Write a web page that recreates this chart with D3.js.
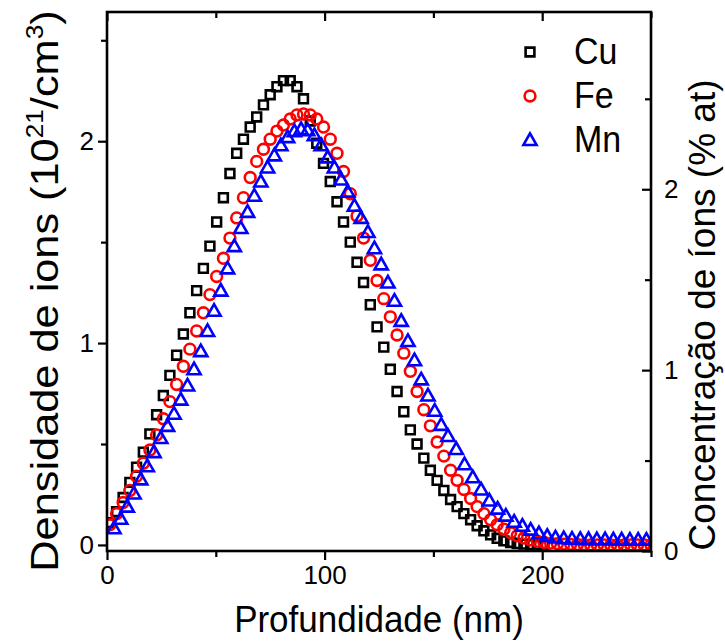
<!DOCTYPE html>
<html>
<head>
<meta charset="utf-8">
<script src="https://cdn.jsdelivr.net/npm/d3@7"></script>
<style>
  body { margin: 0; background: #fff; }
  svg text { font-family: "Liberation Sans", Arial, sans-serif; fill: #000; }
</style>
</head>
<body>
<div id="chart"></div>
<script>
// depth grid (nm) shared by Cu and Fe
var depth = [1.3, 4.4, 7.4, 10.5, 13.6, 16.7, 19.7, 22.8, 25.9, 28.9, 32.0, 35.1, 38.1, 41.2, 44.3, 47.3,
  50.4, 53.5, 56.5, 59.6, 62.7, 65.8, 68.8, 71.9, 75.0, 78.1, 81.1, 84.2, 87.3, 90.3, 93.4, 96.4, 99.5,
  102.6, 105.7, 108.7, 111.8, 114.9, 117.9, 121.0, 124.1, 127.2, 130.2, 133.3, 136.4, 139.4, 142.5, 145.6,
  148.6, 151.7, 154.8, 157.9, 160.9, 164.0, 167.1, 170.1, 173.2, 176.3, 179.3, 182.4, 185.5, 188.5, 191.6,
  194.7, 197.8, 200.8, 203.9, 207.0, 210.0, 213.1, 216.2, 219.3, 222.3, 225.4, 228.5, 231.5, 234.6, 237.7,
  240.7, 243.8, 246.9, 250.0];

// ion density, 10^21 / cm^3
var cuDensity = [0.11, 0.165, 0.235, 0.31, 0.385, 0.46, 0.55, 0.645, 0.74, 0.84, 0.94, 1.045, 1.15, 1.26,
  1.37, 1.48, 1.60, 1.72, 1.84, 1.94, 2.01, 2.07, 2.12, 2.18, 2.23, 2.27, 2.30, 2.30, 2.27, 2.21, 2.10, 1.99,
  1.89, 1.80, 1.70, 1.60, 1.50, 1.40, 1.30, 1.19, 1.08, 0.98, 0.87, 0.76, 0.66, 0.57, 0.50, 0.43, 0.37, 0.32,
  0.27, 0.225, 0.19, 0.155, 0.125, 0.095, 0.07, 0.05, 0.033, 0.02, 0.012, 0.007, 0.004, 0.002, 0.001, 0];

var feDensity = [0.10, 0.155, 0.21, 0.27, 0.34, 0.405, 0.47, 0.545, 0.625, 0.71, 0.795, 0.885, 0.97, 1.06,
  1.15, 1.24, 1.33, 1.42, 1.52, 1.62, 1.72, 1.82, 1.90, 1.96, 2.01, 2.05, 2.08, 2.11, 2.13, 2.135, 2.13, 2.11,
  2.07, 2.01, 1.94, 1.85, 1.74, 1.63, 1.52, 1.41, 1.31, 1.22, 1.13, 1.04, 0.95, 0.86, 0.76, 0.67, 0.59, 0.51,
  0.44, 0.37, 0.32, 0.275, 0.23, 0.19, 0.155, 0.125, 0.10, 0.078, 0.06, 0.045, 0.034, 0.025, 0.018, 0.013,
  0.009, 0.006, 0.004, 0.003, 0.002, 0.001, 0, 0, 0, 0, 0, 0, 0, 0, 0, 0];

// Mn has its own depth grid
var mnDepth = [3.2, 6.3, 9.3, 12.4, 15.5, 18.5, 21.6, 24.7, 27.8, 30.8, 33.9, 37.0, 40.0, 43.1, 46.2, 49.2,
  52.3, 55.4, 58.5, 61.5, 64.6, 67.7, 70.7, 73.8, 76.9, 79.9, 83.0, 86.1, 89.2, 92.2, 95.3, 98.4, 101.4,
  104.5, 107.6, 110.6, 113.7, 116.8, 119.9, 122.9, 126.0, 129.1, 132.1, 135.2, 138.3, 141.3, 144.4, 147.5,
  150.6, 153.6, 156.7, 160.5, 164.3, 168.1, 171.9, 175.7, 179.5, 183.3, 187.1, 190.9, 194.7, 198.5, 202.3,
  206.1, 209.9, 213.7, 217.5, 221.3, 225.1, 228.9, 232.7, 236.5, 240.3, 244.1, 247.9, 251.7];

var mnDensity = [0.083, 0.13, 0.19, 0.255, 0.325, 0.39, 0.46, 0.53, 0.59, 0.65, 0.72, 0.79, 0.87, 0.96,
  1.06, 1.16, 1.26, 1.37, 1.48, 1.57, 1.65, 1.73, 1.80, 1.87, 1.93, 1.98, 2.02, 2.05, 2.06, 2.055, 2.03, 1.98,
  1.92, 1.87, 1.81, 1.75, 1.68, 1.62, 1.55, 1.47, 1.39, 1.30, 1.21, 1.11, 1.01, 0.915, 0.82, 0.74, 0.665,
  0.595, 0.54, 0.475, 0.40, 0.335, 0.275, 0.22, 0.18, 0.145, 0.115, 0.095, 0.075, 0.058, 0.045, 0.037,
  0.033, 0.031, 0.03, 0.029, 0.028, 0.028, 0.027, 0.027, 0.026, 0.026, 0.026, 0.026];

var xTicks = [0, 100, 200];
var xMinorTicks = [50, 150, 250];
var yLeftTicks = [0, 1, 2];
var yRightTicks = [0, 1, 2];
var yMinorTicks = [0.5, 1.5, 2.5];
var seriesNames = ["Cu", "Fe", "Mn"];

var width = 725, height = 642;
var plot = { left: 107, right: 651, top: 12, bottom: 551 };

var svg = d3.select("#chart").append("svg")
    .attr("width", width)
    .attr("height", height);

var xScale = d3.scaleLinear().domain([0, 250]).range([plot.left, plot.right]);
var yScale = d3.scaleLinear().domain([-0.03, 2.64]).range([plot.bottom, plot.top]);
var yRightScale = d3.scaleLinear().domain([0, 2.98]).range([plot.bottom, plot.top]);

function zip(xs, ys) {
    return ys.map(function (v, i) { return { x: xs[i], y: v }; });
}

var series = [
    { name: seriesNames[0], data: zip(depth, cuDensity), color: "#000000", shape: "square" },
    { name: seriesNames[1], data: zip(depth, feDensity), color: "#ff0000", shape: "circle" },
    { name: seriesNames[2], data: zip(mnDepth, mnDensity), color: "#0000ff", shape: "triangle" }
];

// marker paths centred on 0,0
function markerPath(shape) {
    if (shape === "square") return "M-4.4,-4.4H4.4V4.4H-4.4Z";
    if (shape === "circle") return "M5.4,0A5.4,5.4 0 1,1 -5.4,0A5.4,5.4 0 1,1 5.4,0Z";
    return "M0,-6.6L6.6,5H-6.6Z";
}

svg.append("clipPath").attr("id", "plot-clip")
    .append("rect")
    .attr("x", plot.left).attr("y", plot.top)
    .attr("width", plot.right - plot.left).attr("height", plot.bottom - plot.top);

var marks = svg.append("g").attr("clip-path", "url(#plot-clip)");

series.forEach(function (s) {
    marks.append("g")
        .selectAll("path")
        .data(s.data)
        .enter()
        .append("path")
        .attr("d", markerPath(s.shape))
        .attr("transform", function (d) {
            return "translate(" + xScale(d.x) + "," + yScale(d.y) + ")";
        })
        .attr("fill", "none")
        .attr("stroke", s.color)
        .attr("stroke-width", 2.6);
});

// axes
function styleAxis(g, fontSize) {
    g.select(".domain").remove();
    g.selectAll(".tick line").attr("stroke", "#000").attr("stroke-width", 2.2);
    g.selectAll(".tick text").attr("font-size", fontSize)
        .attr("font-family", "Liberation Sans, Arial, sans-serif");
}

var bottomAxis = svg.append("g").attr("transform", "translate(0," + plot.bottom + ")")
    .call(d3.axisBottom(xScale).tickValues(xTicks).tickSize(9).tickPadding(6).tickFormat(d3.format("d")));
styleAxis(bottomAxis, 26);
var bottomMinor = svg.append("g").attr("transform", "translate(0," + plot.bottom + ")")
    .call(d3.axisBottom(xScale).tickValues(xMinorTicks).tickSize(6).tickFormat(""));
styleAxis(bottomMinor, 26);

var topAxis = svg.append("g").attr("transform", "translate(0," + plot.top + ")")
    .call(d3.axisBottom(xScale).tickValues(xTicks).tickSize(9).tickFormat(""));
styleAxis(topAxis, 26);
var topMinor = svg.append("g").attr("transform", "translate(0," + plot.top + ")")
    .call(d3.axisBottom(xScale).tickValues(xMinorTicks).tickSize(6).tickFormat(""));
styleAxis(topMinor, 26);

var leftAxis = svg.append("g").attr("transform", "translate(" + plot.left + ",0)")
    .call(d3.axisLeft(yScale).tickValues(yLeftTicks).tickSize(9).tickPadding(4).tickFormat(d3.format("d")));
styleAxis(leftAxis, 26);
var leftMinor = svg.append("g").attr("transform", "translate(" + plot.left + ",0)")
    .call(d3.axisLeft(yScale).tickValues(yMinorTicks).tickSize(6).tickFormat(""));
styleAxis(leftMinor, 26);

var rightAxis = svg.append("g").attr("transform", "translate(" + plot.right + ",0)")
    .call(d3.axisLeft(yRightScale).tickValues(yRightTicks).tickSize(9).tickFormat(""));
styleAxis(rightAxis, 26);
var rightMinor = svg.append("g").attr("transform", "translate(" + plot.right + ",0)")
    .call(d3.axisLeft(yRightScale).tickValues(yMinorTicks).tickSize(6).tickFormat(""));
styleAxis(rightMinor, 26);
// right tick labels sit outside the frame
var rightLabels = svg.append("g").attr("transform", "translate(" + plot.right + ",0)")
    .call(d3.axisRight(yRightScale).tickValues(yRightTicks).tickSize(0).tickPadding(13).tickFormat(d3.format("d")));
styleAxis(rightLabels, 26);

// frame
svg.append("rect")
    .attr("x", plot.left).attr("y", plot.top)
    .attr("width", plot.right - plot.left).attr("height", plot.bottom - plot.top)
    .attr("fill", "none").attr("stroke", "#000").attr("stroke-width", 2.6);

// axis titles
svg.append("text")
    .attr("transform", "translate(" + ((plot.left + plot.right) / 2) + ",632) scale(1,1.08)")
    .attr("text-anchor", "middle")
    .attr("font-size", 35)
    .text("Profundidade (nm)");

// left title is stretched along its length, as in the original
var leftTitle = svg.append("text")
    .attr("transform", "translate(58,291) rotate(-90) scale(1.14,1)")
    .attr("text-anchor", "middle")
    .attr("font-size", 38);
leftTitle.append("tspan").text("Densidade de ions (10");
leftTitle.append("tspan").attr("font-size", 23).attr("dy", -15).text("21");
leftTitle.append("tspan").attr("dy", 15).text("/cm");
leftTitle.append("tspan").attr("font-size", 23).attr("dy", -15).text("3");
leftTitle.append("tspan").attr("dy", 15).text(")");

svg.append("text")
    .attr("transform", "translate(715,315) rotate(-90)")
    .attr("text-anchor", "middle")
    .attr("font-size", 37)
    .text("Concentração de íons (% at)");

// legend
var legend = svg.append("g").attr("transform", "translate(530,52)");
series.forEach(function (s, i) {
    var row = legend.append("g").attr("transform", "translate(0," + (i * 44) + ")");
    row.append("path")
        .attr("d", markerPath(s.shape))
        .attr("fill", "none")
        .attr("stroke", s.color)
        .attr("stroke-width", 2.6);
    row.append("text")
        .attr("transform", "translate(44,12) scale(1,1.08)")
        .attr("font-size", 34)
        .text(s.name);
});
</script>
</body>
</html>
